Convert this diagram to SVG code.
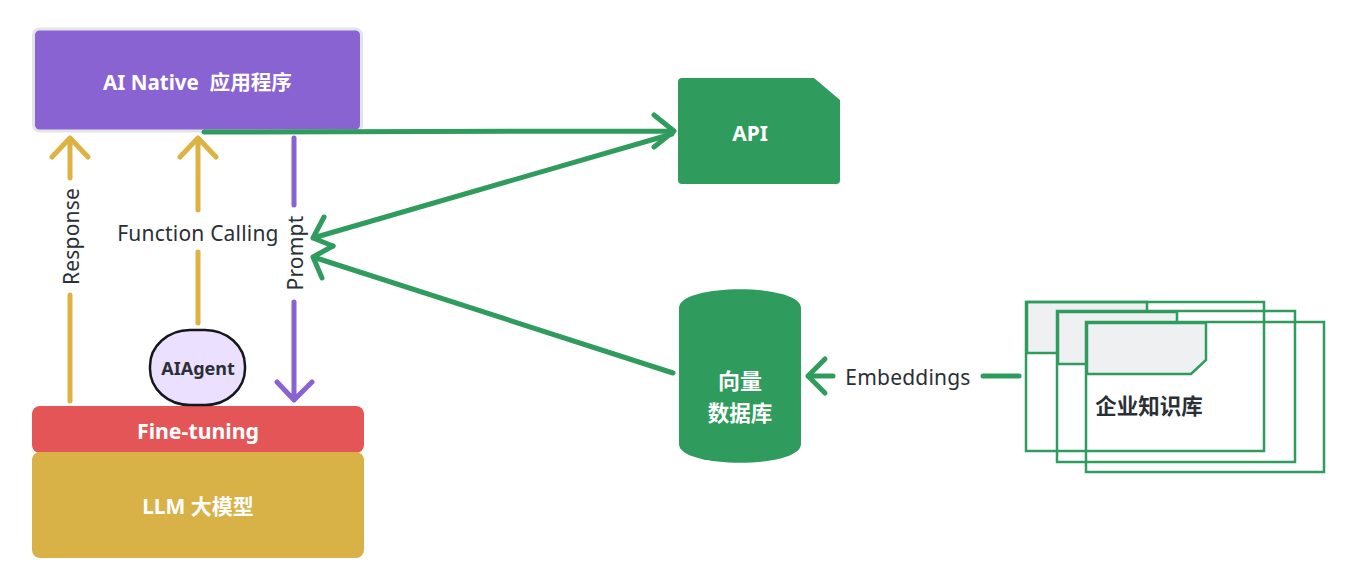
<svg xmlns="http://www.w3.org/2000/svg" width="1350" height="586" viewBox="0 0 1350 586">
<style>
text{font-family:"Noto Sans","Noto Sans CJK SC",sans-serif}
.w{fill:#fff;font-weight:700;font-size:21px;text-anchor:middle}
.d{fill:#2b2f36;font-size:21px;text-anchor:middle;letter-spacing:.2px}
.line{fill:none;stroke-linecap:round;stroke-linejoin:round;stroke-width:5px}
.y{stroke:#dcb342}.p{stroke:#8a63d2}.g{stroke:#2f9c5e}
.doc{fill:none;stroke:#2f9c5e;stroke-width:2.500px}
.tab{fill:#eff0f2;stroke:#2f9c5e;stroke-width:2.500px}
</style>
<rect width="1350" height="586" fill="#fff"/>

<g id="app">
<rect x="33.500" y="29" width="328" height="102" rx="6" fill="#8a63d2" stroke="#e3e4e8" stroke-width="3"/>
<text class="w" x="197.500" y="90" xml:space="preserve" style="font-size:20.600px">AI Native  应用程序</text>
</g>
<g id="fine-tuning">
<rect x="32" y="406" width="332" height="47" rx="8" fill="#e35556"/>
<text class="w" x="198" y="439" style="font-size:21.300px">Fine-tuning</text>
</g>
<g id="llm">
<rect x="32" y="452" width="332" height="106" rx="8" fill="#d8b247"/>
<text class="w" x="198" y="514">LLM 大模型</text>
</g>
<g id="agent">
<rect x="150" y="330" width="95" height="75" rx="40" ry="36" fill="#ebe0ff" stroke="#14171c" stroke-width="2.500"/>
<text x="198" y="375" text-anchor="middle" font-size="18" font-weight="700" fill="#2b2f36">AIAgent</text>
</g>
<g id="api">
<path d="M682 78H814L840 100V180a4 4 0 0 1-4 4H682a4 4 0 0 1-4-4V82a4 4 0 0 1 4-4Z" fill="#2f9c5e"/>
<text class="w" x="750" y="141">API</text>
</g>
<g id="vector-db">
<path d="M679 308C679 283 801 283 801 308V444C801 469 679 469 679 444Z" fill="#2f9c5e"/>
<text class="w" x="740" y="389" style="font-size:22px">向量</text>
<text class="w" x="740" y="421" style="font-size:21.500px">数据库</text>
</g>
<g id="knowledge-base">
<path d="M1027 302H1147V353H1027Z" class="tab"/>
<rect x="1026" y="302" width="238" height="149" class="doc"/>
<path d="M1058 312H1177V364H1058Z" class="tab"/>
<rect x="1057" y="311" width="238" height="151" class="doc"/>
<path d="M1087 323H1206V360L1191 374H1087Z" class="tab"/>
<rect x="1086" y="322" width="238" height="150" class="doc"/>
<text x="1149" y="414" text-anchor="middle" font-size="21.500" font-weight="700" fill="#2b2f36">企业知识库</text>
</g>

<g id="connectors">
<path class="line y" d="M70 401V295M70 178V138M52 157L70 138L88 157"/>
<path class="line y" d="M198 323V252M198 210V138M180 157L198 138L216 157"/>
<path class="line p" d="M294 138V205M294 302V400M277 382L294 400L312 382"/>
<path class="line g" d="M204 132L672 131M654 115L674 131L654 147"/>
<path class="line g" d="M672 134L313 238M324 217L313 238L333 246"/>
<path class="line g" d="M673 373L313 257M333 246L313 257L322 278"/>
<path class="line g" d="M833 376H808M825 359L808 376L825 393"/>
<path class="line g" d="M983 376H1019"/>
</g>

<g id="labels">
<text class="d" transform="translate(79 236.500) rotate(-90)">Response</text>
<text class="d" x="198" y="241">Function Calling</text>
<text class="d" transform="translate(303 253) rotate(-90)">Prompt</text>
<text class="d" x="908" y="385">Embeddings</text>
</g>
</svg>
